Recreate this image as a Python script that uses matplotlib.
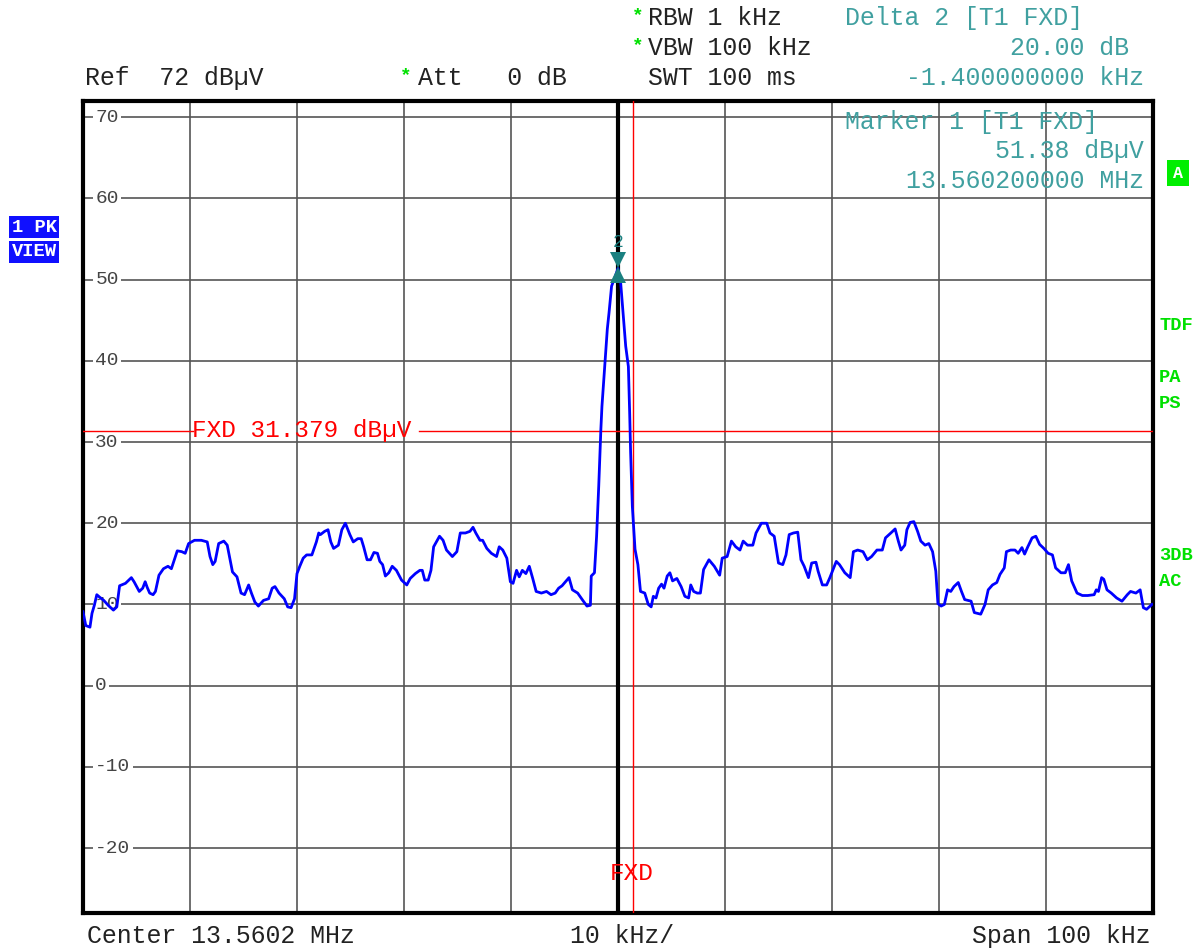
import matplotlib
matplotlib.use("Agg")
import matplotlib.pyplot as plt
import numpy as np

plt.rcParams['font.family'] = ['Liberation Mono', 'DejaVu Sans Mono']

# ---- Data (offset from center 13.5602 MHz, kHz ; level dBµV) ----
freq_khz = [
    -50.0, -49.74, -49.35, -49.16, -48.94, -48.71, -48.45, -48.06, -47.65, -47.16,
    -46.84, -46.58, -46.03, -45.48, -45.23, -44.74, -44.42, -44.19, -44.0, -43.77,
    -43.45, -43.23, -42.9, -42.48, -42.06, -41.74, -41.19, -40.77, -40.45, -40.13,
    -39.58, -38.94, -38.39, -38.13, -37.87, -37.65, -37.32, -36.84, -36.52, -36.03,
    -35.61, -35.23, -34.9, -34.52, -34.26, -33.94, -33.61, -33.13, -32.65, -32.32,
    -32.06, -31.68, -31.19, -30.87, -30.55, -30.23, -30.0, -29.74, -29.42, -29.1,
    -28.61, -28.19, -27.97, -27.81, -27.42, -27.1, -26.84, -26.58, -26.13, -25.81,
    -25.48, -25.06, -24.74, -24.32, -24.0, -23.77, -23.45, -23.13, -22.81, -22.48,
    -22.26, -22.0, -21.74, -21.42, -21.1, -20.71, -20.23, -19.74, -19.42, -18.94,
    -18.52, -18.29, -18.06, -17.74, -17.48, -17.23, -16.68, -16.35, -16.03, -15.48,
    -15.06, -14.74, -14.26, -13.84, -13.55, -13.29, -12.9, -12.65, -12.26, -11.84,
    -11.35, -11.1, -10.77, -10.39, -10.06, -9.81, -9.48, -9.23, -8.94, -8.61,
    -8.29, -7.97, -7.65, -7.16, -6.68, -6.26, -5.87, -5.55, -5.23, -4.9,
    -4.58, -4.26, -3.77, -3.29, -2.9, -2.58, -2.5, -2.2, -2.0, -1.8,
    -1.6, -1.5, -1.2, -1.0, -0.84, -0.6, -0.37, 0.0, 0.25, 0.47,
    0.72, 0.97, 1.09, 1.18, 1.34, 1.59, 1.86, 2.1, 2.5, 2.83,
    3.1, 3.3, 3.55, 3.8, 4.07, 4.3, 4.6, 4.85, 5.1, 5.5,
    5.9, 6.25, 6.6, 6.8, 7.07, 7.4, 7.7, 8.0, 8.5, 9.0,
    9.5, 9.74, 10.2, 10.6, 11.0, 11.4, 11.7, 12.1, 12.6, 12.9,
    13.4, 13.9, 14.2, 14.6, 15.0, 15.4, 15.7, 16.0, 16.4, 16.8,
    17.1, 17.4, 17.8, 18.1, 18.5, 18.7, 19.1, 19.5, 19.8, 20.4,
    20.7, 21.2, 21.7, 22.0, 22.4, 22.9, 23.3, 23.7, 24.2, 24.7,
    25.0, 25.5, 25.9, 26.2, 26.45, 26.8, 27.0, 27.3, 27.65, 28.0,
    28.3, 28.7, 29.05, 29.4, 29.7, 29.9, 30.2, 30.5, 30.8, 31.1,
    31.4, 31.8, 32.1, 32.4, 33.0, 33.3, 33.9, 34.3, 34.6, 35.0,
    35.4, 35.7, 36.1, 36.3, 36.7, 37.1, 37.4, 37.75, 38.0, 38.3,
    38.7, 39.05, 39.4, 39.8, 40.2, 40.6, 40.9, 41.4, 41.8, 42.1,
    42.4, 42.9, 43.4, 43.9, 44.5, 44.7, 44.9, 45.2, 45.4, 45.7,
    46.1, 46.6, 47.1, 47.6, 47.9, 48.4, 48.8, 49.1, 49.4, 49.9,
]
level_dbuv = [
    9.1, 7.4, 7.2, 8.9, 9.9, 11.2, 10.9, 10.5, 9.9, 9.3,
    9.7, 12.3, 12.6, 13.3, 12.8, 11.6, 12.0, 12.8, 12.1, 11.4,
    11.2, 11.6, 13.6, 14.4, 14.7, 14.4, 16.6, 16.5, 16.3, 17.5,
    17.9, 17.9, 17.7, 15.9, 14.9, 15.3, 17.5, 17.8, 17.3, 14.0,
    13.4, 11.4, 11.2, 12.4, 11.4, 10.3, 9.8, 10.5, 10.7, 12.0,
    12.2, 11.4, 10.7, 9.7, 9.6, 10.7, 13.8, 14.7, 15.7, 16.1,
    16.1, 17.7, 18.8, 18.6, 19.0, 19.2, 17.7, 16.9, 17.3, 19.2,
    20.0, 18.6, 17.7, 18.1, 18.1, 17.1, 15.5, 15.5, 16.4, 16.3,
    15.3, 14.9, 13.5, 13.9, 14.7, 14.2, 13.0, 12.4, 13.2, 13.8,
    14.2, 14.2, 13.0, 13.0, 14.2, 17.1, 18.4, 17.9, 16.7, 15.9,
    16.5, 18.8, 18.8, 19.0, 19.5, 18.8, 17.9, 17.9, 16.9, 16.3,
    15.9, 17.1, 16.7, 15.7, 12.8, 12.6, 14.2, 13.4, 14.2, 13.8,
    14.7, 13.2, 11.6, 11.4, 11.6, 11.2, 11.4, 12.0, 12.3, 12.8,
    13.3, 11.8, 11.4, 10.5, 9.8, 9.9, 13.5, 13.9, 18.4, 24.6,
    31.6, 34.4, 40.2, 43.9, 45.9, 49.2, 50.0, 51.38, 49.6, 45.9,
    41.8, 39.3, 33.6, 28.7, 22.1, 16.8, 14.9, 11.6, 11.4, 10.0,
    9.7, 11.0, 10.8, 12.0, 12.5, 12.0, 13.5, 13.9, 12.9, 13.2,
    12.2, 11.0, 10.8, 12.4, 11.6, 11.4, 11.4, 14.3, 15.5, 14.7,
    13.6, 15.7, 15.9, 17.8, 17.1, 16.7, 17.8, 17.3, 17.3, 18.8,
    20.0, 20.0, 18.8, 18.4, 15.1, 14.9, 16.1, 18.6, 18.8, 18.9,
    15.5, 14.7, 13.3, 15.1, 15.2, 14.1, 12.4, 12.4, 13.3, 15.3,
    14.9, 13.9, 13.3, 16.5, 16.7, 16.5, 15.5, 15.9, 16.7, 16.7,
    18.2, 18.8, 19.3, 17.8, 16.7, 17.3, 19.2, 20.1, 20.2, 19.0,
    17.8, 17.3, 17.5, 16.5, 14.1, 10.1, 9.8, 10.0, 11.8, 11.6,
    12.2, 12.7, 11.6, 10.6, 10.4, 9.0, 8.8, 10.0, 11.8, 12.4,
    12.7, 13.7, 14.5, 16.5, 16.7, 16.7, 16.3, 17.0, 16.2, 17.1,
    18.2, 18.4, 17.4, 16.9, 16.3, 16.1, 14.5, 13.9, 13.9, 14.9,
    12.9, 11.4, 11.1, 11.1, 11.2, 11.8, 11.6, 13.3, 13.1, 11.8,
    11.4, 10.8, 10.4, 11.2, 11.6, 11.4, 11.8, 9.6, 9.4, 10.0,
]
y_ticks = [70, 60, 50, 40, 30, 20, 10, 0, -10, -20]
x_grid = [-40, -30, -20, -10, 10, 20, 30, 40]
fxd_level = 31.379
fxd_freq = 1.4
marker_freq = 0.0
marker_level = 51.38

W, H = 1202, 950
fig = plt.figure(figsize=(W / 100, H / 100), dpi=100)
fig.patch.set_facecolor('white')
ax = fig.add_axes([83 / W, 1 - 913 / H, (1153 - 83) / W, (913 - 101) / H])
ax.set_xlim(-50, 50)
ax.set_ylim(-28, 72)
ax.set_xticks([])
ax.set_yticks([])
for s in ax.spines.values():
    s.set_linewidth(3)
    s.set_color('black')

grid_c = '#555555'
for xg in x_grid:
    ax.axvline(xg, color=grid_c, lw=1.2, zorder=1)
for yt in y_ticks:
    ax.axhline(yt, color=grid_c, lw=1.2, zorder=1)
    ax.text(-48.85, yt, f"{yt}", fontsize=14, color='#444444', ha='left', va='center',
            zorder=2, bbox=dict(facecolor='white', edgecolor='none', pad=1.5))
ax.axvline(marker_freq, color='black', lw=3, zorder=3)

# FXD lines
red = '#ff0000'
ax.axvline(fxd_freq, color=red, lw=1, zorder=3)
ax.axhline(fxd_level, xmin=0, xmax=(193 - 83) / 1070, color=red, lw=1, zorder=3)
ax.axhline(fxd_level, xmin=(419 - 83) / 1070, xmax=1, color=red, lw=1, zorder=3)
ax.text(-50 + (192 - 83) / 10.7, fxd_level, "FXD 31.379 dBµV", color=red, fontsize=17.6,
        ha='left', va='center', zorder=4)
ax.text(fxd_freq - 0.1, -23.1, "FXD", color=red, fontsize=17.6, ha='center', va='center', zorder=4)

# Trace
ax.plot(freq_khz, level_dbuv, color='#0000ff', lw=2, zorder=5)

# Markers
teal = '#1a8080'
ax.plot([marker_freq], [marker_level + 1.1], marker='v', color=teal, ms=11, zorder=6, mew=0)
ax.plot([marker_freq], [marker_level - 0.8], marker='^', color=teal, ms=11, zorder=6, mew=0)
ax.text(marker_freq, 54.6, "2", color=teal, fontsize=13, ha='center', va='center', zorder=6)

tcol = '#40a0a0'
kcol = '#222222'
gcol = '#00e000'
fs = 17.9


def ft(x, y, s, **kw):
    fig.text(x / W, 1 - y / H, s, **kw)


# header
ft(648, 18, "RBW 1 kHz", color=kcol, fontsize=fs, ha='left', va='center')
ft(648, 48, "VBW 100 kHz", color=kcol, fontsize=fs, ha='left', va='center')
ft(648, 78, "SWT 100 ms", color=kcol, fontsize=fs, ha='left', va='center')
ft(85, 78, "Ref  72 dBµV", color=kcol, fontsize=fs, ha='left', va='center')
ft(418, 78, "Att   0 dB", color=kcol, fontsize=fs, ha='left', va='center')
for (sx, sy) in [(638, 16), (638, 46), (406, 76)]:
    ft(sx, sy, "*", color=gcol, fontsize=14, ha='center', va='center', fontweight='bold')
ft(845, 18, "Delta 2 [T1 FXD]", color=tcol, fontsize=fs, ha='left', va='center')
ft(1129, 48, "20.00 dB", color=tcol, fontsize=fs, ha='right', va='center')
ft(1144, 78, "-1.400000000 kHz", color=tcol, fontsize=fs, ha='right', va='center')
ft(845, 122, "Marker 1 [T1 FXD]", color=tcol, fontsize=fs, ha='left', va='center')
ft(1144, 151, "51.38 dBµV", color=tcol, fontsize=fs, ha='right', va='center')
ft(1144, 181, "13.560200000 MHz", color=tcol, fontsize=fs, ha='right', va='center')

# footer
ft(87, 936, "Center 13.5602 MHz", color=kcol, fontsize=fs, ha='left', va='center')
ft(570, 936, "10 kHz/", color=kcol, fontsize=fs, ha='left', va='center')
ft(1150, 936, "Span 100 kHz", color=kcol, fontsize=fs, ha='right', va='center')

# side labels
ft(1178, 173, "A", color='white', fontsize=12, ha='center', va='center', fontweight='bold',
   bbox=dict(facecolor='#00ee00', edgecolor='none', boxstyle='square,pad=0.35'))
for lab, yy in [("TDF", 326), ("PA", 377), ("PS", 403), ("3DB", 556), ("AC", 582)]:
    ft(1159, yy, lab, color=gcol, fontsize=13.5, ha='left', va='center', fontweight='bold')
ft(34, 227, "1 PK", color='white', fontsize=13.5, ha='center', va='center', fontweight='bold',
   bbox=dict(facecolor='#1010ff', edgecolor='none', boxstyle='square,pad=0.15'))
ft(34, 252, "VIEW", color='white', fontsize=13.5, ha='center', va='center', fontweight='bold',
   bbox=dict(facecolor='#1010ff', edgecolor='none', boxstyle='square,pad=0.15'))

fig.savefig("out.png", dpi=100, facecolor='white')
